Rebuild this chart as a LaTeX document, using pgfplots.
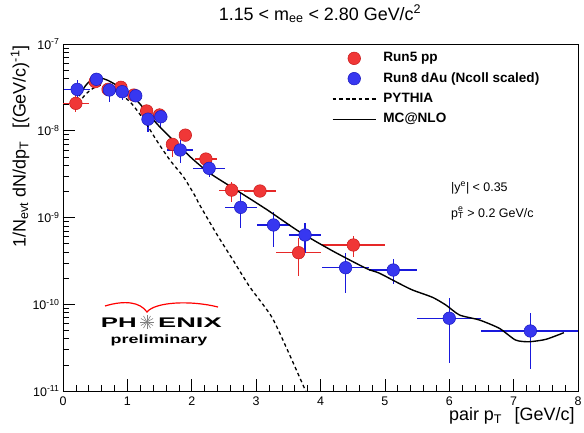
\documentclass[border=0pt]{standalone}
\usepackage{pgfplots}
\pgfplotsset{compat=1.18}
\usepackage{pgfplotstable}
\usepackage{graphicx}
\usepackage{fontspec}
\setmainfont{Liberation Sans}
\usetikzlibrary{calc}
\definecolor{rootred}{RGB}{240,55,55}
\definecolor{rootreddark}{RGB}{200,25,25}
\definecolor{rootblue}{RGB}{55,55,240}
\definecolor{rootbluedark}{RGB}{25,25,190}
\definecolor{barred}{RGB}{230,40,40}
\definecolor{barblue}{RGB}{25,25,220}

\pgfplotstableread{
x y exm exp eym eyp
0.20 2.07e-8 0.20 0.20 0.41e-8 0.51e-8
0.50 3.68e-8 0.10 0.10 0.30e-8 0.30e-8
0.70 3.00e-8 0.10 0.10 0.30e-8 0.30e-8
0.90 3.17e-8 0.10 0.10 0.30e-8 0.30e-8
1.10 2.58e-8 0.10 0.10 0.25e-8 0.25e-8
1.30 1.69e-8 0.10 0.10 0.20e-8 0.20e-8
1.50 1.52e-8 0.10 0.10 0.18e-8 0.18e-8
1.70 6.98e-9 0.10 0.10 1.98e-9 1.26e-9
1.90 8.90e-9 0.10 0.10 0.90e-9 0.90e-9
2.22 4.72e-9 0.17 0.17 0.60e-9 0.60e-9
2.62 2.07e-9 0.20 0.20 0.55e-9 0.52e-9
3.06 2.02e-9 0.25 0.25 0.30e-9 0.30e-9
3.66 3.93e-10 0.35 0.35 1.84e-10 1.87e-10
4.51 4.82e-10 0.49 0.49 1.29e-10 1.30e-10
}\redpts

\pgfplotstableread{
x y exm exp eym eyp
0.22 3.00e-8 0.20 0.20 0.60e-8 0.85e-8
0.52 3.92e-8 0.10 0.10 0.45e-8 0.45e-8
0.72 2.95e-8 0.10 0.10 0.81e-8 0.60e-8
0.92 2.82e-8 0.10 0.10 0.56e-8 0.54e-8
1.13 2.53e-8 0.10 0.10 0.30e-8 0.30e-8
1.32 1.36e-8 0.10 0.10 0.385e-8 0.37e-8
1.52 1.45e-8 0.10 0.10 0.34e-8 0.33e-8
1.82 6.00e-9 0.20 0.20 1.75e-9 1.80e-9
2.27 3.69e-9 0.25 0.25 0.74e-9 0.91e-9
2.76 1.31e-9 0.25 0.25 0.56e-9 0.62e-9
3.27 8.20e-10 0.25 0.25 3.60e-10 3.50e-10
3.76 6.29e-10 0.25 0.25 2.39e-10 2.36e-10
4.39 2.64e-10 0.37 0.37 1.30e-10 1.22e-10
5.13 2.48e-10 0.37 0.37 0.77e-10 0.82e-10
6.00 6.90e-11 0.50 0.50 4.81e-11 4.80e-11
7.26 4.92e-11 0.76 0.74 3.14e-11 3.08e-11
}\bluepts

\pgfplotstableread{
x y
0.24 2.07e-8
0.35 2.63e-8
0.47 3.09e-8
0.62 3.37e-8
0.83 2.82e-8
1.04 2.16e-8
1.24 1.39e-8
1.45 7.82e-9
1.66 4.60e-9
1.87 2.95e-9
2.05 1.78e-9
2.12 1.41e-9
2.38 6.58e-10
2.64 3.24e-10
2.90 1.59e-10
3.24 7.19e-11
3.50 2.82e-11
3.77 1.00e-11
3.82 8.50e-12
}\pythia

\pgfplotstableread{
x y
0.25 2.51e-8
0.35 3.31e-8
0.45 3.89e-8
0.57 4.07e-8
0.70 3.80e-8
0.91 3.09e-8
1.14 2.26e-8
1.32 1.585e-8
1.50 1.114e-8
1.76 7.16e-9
2.02 4.68e-9
2.28 3.24e-9
2.64 2.19e-9
3.16 1.242e-9
3.67 6.87e-10
4.19 4.11e-10
4.71 2.59e-10
4.91 2.29e-10
5.22 1.74e-10
5.43 1.459e-10
5.74 1.202e-10
5.95 9.77e-11
6.16 7.52e-11
6.47 6.58e-11
6.78 5.27e-11
7.03 3.87e-11
7.24 3.70e-11
7.50 3.94e-11
7.78 4.70e-11
}\mcnlo

\begin{document}
\begin{tikzpicture}
\begin{axis}[
  scale only axis, width=515bp, height=347bp,
  xmin=0, xmax=8, ymode=log, ymin=1e-11, ymax=1e-7,
  xtick={0,1,2,3,4,5,6,7,8}, minor x tick num=4,
  ytick={1e-11,1e-10,1e-9,1e-8,1e-7},
  yticklabels={10\textsuperscript{-11},10\textsuperscript{-10},10\textsuperscript{-9},10\textsuperscript{-8},10\textsuperscript{-7}},
  tick align=inside, xtick pos=bottom, ytick pos=left,
  major tick length=12bp, minor tick length=6bp,
  axis line style={line width=0.8bp},
  tick style={black, line width=0.7bp},
  /pgf/number format/assume math mode=true,
  ticklabel style={font=\fontsize{12.5}{14}\selectfont},
  xticklabel style={yshift=-2bp},
  legend style={at={(0.522,0.978)}, anchor=north west, draw=none, fill=none, inner sep=0pt,
    font=\fontsize{13.6}{15}\selectfont\bfseries, row sep=7.3bp,
    nodes={inner sep=0pt, text height=10bp, text depth=3bp}},
  legend cell align=left,
  legend image code/.code={\draw[mark repeat=2,mark phase=2,#1] plot coordinates {(0bp,0bp) (21.5bp,0bp) (43bp,0bp)}; \path (50bp,0bp);},
]
\addplot[only marks, mark=*, mark size=6.3bp,
  mark options={fill=rootred, draw=rootreddark, line width=0.5bp},
  error bars/.cd, x dir=both, x explicit, y dir=both, y explicit,
  error mark=none, error bar style={barred, line width=1.2bp}]
  table[x=x, y=y, x error plus=exp, x error minus=exm, y error plus=eyp, y error minus=eym] {\redpts};
\addlegendentry{Run5 pp}
\addplot[only marks, mark=*, mark size=6.3bp,
  mark options={fill=rootblue, draw=rootbluedark, line width=0.5bp},
  error bars/.cd, x dir=both, x explicit, y dir=both, y explicit,
  error mark=none, error bar style={barblue, line width=1.2bp}]
  table[x=x, y=y, x error plus=exp, x error minus=exm, y error plus=eyp, y error minus=eym] {\bluepts};
\addlegendentry{Run8 dAu (Ncoll scaled)}
\addplot[black, line width=1.3bp, dash pattern=on 3.5bp off 3bp, smooth, tension=0.4] table[x=x, y=y] {\pythia};
\addlegendentry{PYTHIA}
\addplot[black, line width=1.4bp, smooth, tension=0.4] table[x=x, y=y] {\mcnlo};
\addlegendentry{MC@NLO}
\end{axis}

\begin{scope}[shift={(current axis.south west)}, x=1bp, y=1bp]
  \node[font=\fontsize{18}{20}\selectfont] at (257,377) {1.15 < m\textsubscript{ee} < 2.80 GeV/c\textsuperscript{2}};
  \node[rotate=90, anchor=east, font=\fontsize{18}{20}\selectfont] at (-43,349) {1/N\textsubscript{evt} dN/dp\textsubscript{T}\hspace{0.7em}[(GeV/c)\textsuperscript{-1}]};
  \node[anchor=east, font=\fontsize{18}{20}\selectfont] at (515,-25) {pair p\textsubscript{T}\hspace{0.7em}[GeV/c]};
  \node[anchor=base west, inner sep=0pt, font=\fontsize{12.5}{14}\selectfont] at (388,200) {|y\textsuperscript{e}| < 0.35};
  \node[anchor=base west, inner sep=0pt, font=\fontsize{12.5}{14}\selectfont] at (388,174) {p\rlap{\raisebox{1.2bp}{\textsuperscript{e}}}\textsubscript{T} > 0.2 GeV/c};
  % PHENIX preliminary logo
  \draw[red, line width=1.2bp] (42,85) .. controls (62,91) and (77,89) .. (84,79) .. controls (92,89) and (127,91) .. (155,84);
  \node[anchor=base east, inner sep=0pt, font=\fontsize{14}{14}\selectfont\bfseries] at (74,64) {\scalebox{1.85}[1]{PH}};
  \node[anchor=base west, inner sep=0pt, font=\fontsize{14}{14}\selectfont\bfseries] at (95,64) {\scalebox{1.95}[1]{ENIX}};
  \foreach \a in {0,30,...,330} \draw[gray, line width=0.6bp] (84,69) -- ++(\a:7bp);
  \node[inner sep=0pt, font=\fontsize{12}{12}\selectfont\bfseries] at (96,51) {\scalebox{1.5}[1]{preliminary}};
\end{scope}
\pgfresetboundingbox
\path[use as bounding box] ($(current axis.south west)+(-63bp,-42bp)$) rectangle ($(current axis.north east)+(6bp,44bp)$);
\end{tikzpicture}
\end{document}
